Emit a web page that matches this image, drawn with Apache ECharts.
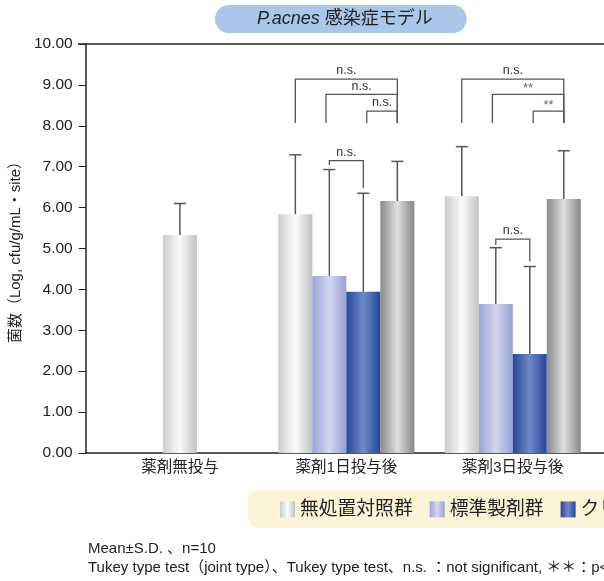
<!DOCTYPE html>
<html>
<head>
<meta charset="utf-8">
<script src="https://cdn.jsdelivr.net/npm/echarts@6/dist/echarts.min.js"></script>
<style>
html, body { margin: 0; padding: 0; background: #fff; }
#chart { width: 604px; height: 581px; }
</style>
</head>
<body>
<div id="chart"></div>
<script>
var categories = ['薬剤無投与', '薬剤1日投与後', '薬剤3日投与後'];
var groupNames = ['無処置対照群', '標準製剤群', 'クリンダマイシン群', '本剤群'];

// mean values (group 1 has only the control)
var controlMean = [5.33, 5.84, 6.28];
var standardMean = [null, 4.33, 3.64];
var clindaMean = [null, 3.94, 2.42];
var testMean = [null, 6.16, 6.21];

// mean + S.D.
var controlUpper = [6.10, 7.29, 7.49];
var standardUpper = [null, 6.93, 5.02];
var clindaUpper = [null, 6.35, 4.56];
var testUpper = [null, 7.13, 7.39];

// significance: [category, slotFrom, slotTo, lineY, leftLegY, rightLegY]
var sigBrackets = [
    [1, -1.5, 1.5, 9.14, 8.07, 8.07],
    [1, -0.6, 1.5, 8.77, 8.07, 8.07],
    [1, 0.6, 1.5, 8.36, 8.07, 8.07],
    [1, -0.5, 0.5, 7.15, 7.04, 6.48],
    [2, -1.5, 1.5, 9.14, 8.07, 8.07],
    [2, -0.6, 1.5, 8.77, 8.07, 8.07],
    [2, 0.6, 1.5, 8.36, 8.07, 8.07],
    [2, -0.5, 0.5, 5.23, 5.09, 4.68]
];
var sigLabels = ['n.s.', 'n.s.', 'n.s.', 'n.s.', 'n.s.', '**', '**', 'n.s.'];

var BAR_W = 34;
var FONT = '"Liberation Sans", "Noto Sans CJK JP", sans-serif';

function grad(c1, c2, c3) {
    return new echarts.graphic.LinearGradient(0, 0, 1, 0, [
        { offset: 0, color: c1 },
        { offset: 0.5, color: c2 },
        { offset: 1, color: c3 }
    ]);
}
var colControl = grad('#cccccc', '#fbfbfb', '#c2c2c2');
var colStandard = grad('#9ca4d5', '#d3d6ee', '#99a1d3');
var colClinda = grad('#284799', '#6f8ac9', '#25449a');
var colTest = grad('#8a8a8a', '#dedede', '#878787');

function toRows(means, uppers, cats) {
    var rows = [];
    for (var i = 0; i < means.length; i++) {
        if (means[i] == null || cats.indexOf(i) < 0) continue;
        rows.push([i, means[i], uppers[i]]);
    }
    return rows;
}

function errorRender(slot) {
    return function (params, api) {
        var top = api.coord([api.value(0), api.value(2)]);
        var base = api.coord([api.value(0), api.value(1)]);
        var cx = top[0] + slot * BAR_W;
        var st = { stroke: '#555', lineWidth: 1.5 };
        return {
            type: 'group',
            children: [
                { type: 'line', shape: { x1: cx, y1: base[1], x2: cx, y2: top[1] }, style: st },
                { type: 'line', shape: { x1: cx - 6, y1: top[1], x2: cx + 6, y2: top[1] }, style: st }
            ]
        };
    };
}

function errorSeries(means, uppers, slot, cats, axisIdx) {
    return {
        type: 'custom',
        xAxisIndex: axisIdx,
        renderItem: errorRender(slot),
        data: toRows(means, uppers, cats),
        z: 5,
        silent: true
    };
}

function bracketRender(params, api) {
    var c = api.value(0);
    var p0 = api.coord([c, api.value(3)]);
    var pl = api.coord([c, api.value(4)]);
    var pr = api.coord([c, api.value(5)]);
    var xl = p0[0] + api.value(1) * BAR_W;
    var xr = p0[0] + api.value(2) * BAR_W;
    var label = sigLabels[params.dataIndex];
    var star = label === '**';
    return {
        type: 'group',
        children: [
            {
                type: 'polyline',
                shape: { points: [[xl, pl[1]], [xl, p0[1]], [xr, p0[1]], [xr, pr[1]]] },
                style: { stroke: '#555', lineWidth: 1.3, fill: null }
            },
            {
                type: 'text',
                x: (xl + xr) / 2,
                y: star ? p0[1] + 1 : p0[1] - 2,
                style: {
                    text: label,
                    font: (star ? '13px ' : '12.5px ') + FONT,
                    fill: star ? '#666' : '#333',
                    textAlign: 'center',
                    textVerticalAlign: 'bottom'
                }
            }
        ]
    };
}

var chart = echarts.init(document.getElementById('chart'));

var option = {
    animation: false,
    textStyle: { fontFamily: FONT },
    title: {
        text: '{i|P.acnes} 感染症モデル',
        left: 215,
        top: 5,
        padding: [5, 34, 5, 42],
        backgroundColor: '#a8c7ea',
        borderRadius: 14,
        textStyle: {
            fontSize: 18,
            fontWeight: 'normal',
            color: '#222',
            fontFamily: FONT,
            rich: {
                i: { fontSize: 18, fontStyle: 'italic', color: '#222', fontFamily: FONT }
            }
        }
    },
    legend: {
        data: groupNames,
        left: 248,
        top: 490,
        width: 1000,
        padding: [10, 30, 9, 32],
        backgroundColor: '#fdf3d6',
        borderRadius: 10,
        icon: 'rect',
        itemWidth: 15,
        itemHeight: 16,
        itemGap: 17,
        textStyle: { fontSize: 18.8, color: '#222', fontFamily: FONT }
    },
    grid: { left: 96, width: 500, top: 44, height: 409 },
    xAxis: [{
        type: 'category',
        data: categories,
        axisLine: { show: false },
        axisTick: { show: false },
        axisLabel: { fontSize: 15.5, color: '#222', margin: 7 }
    }, {
        type: 'category',
        data: categories,
        show: false
    }],
    yAxis: {
        type: 'value',
        min: 0,
        max: 10,
        interval: 1,
        offset: 11,
        name: '菌数（Log, cfu/g/mL・site）',
        nameLocation: 'middle',
        nameGap: 57,
        nameTextStyle: { fontSize: 15, color: '#222' },
        axisLine: { show: true, lineStyle: { color: '#222', width: 1.5 } },
        axisTick: { show: true, length: 7, lineStyle: { color: '#222' } },
        axisLabel: {
            fontSize: 15.5,
            color: '#222',
            margin: 13,
            formatter: function (v) { return v.toFixed(2); }
        },
        splitLine: { show: false }
    },
    graphic: [
        { type: 'line', shape: { x1: 78, y1: 44, x2: 604, y2: 44 }, style: { stroke: '#222', lineWidth: 1.5 } },
        { type: 'line', shape: { x1: 85, y1: 453, x2: 604, y2: 453 }, style: { stroke: '#222', lineWidth: 1.5 } },
        { type: 'text', left: 88, top: 541, style: { text: 'Mean±S.D. 、n=10', font: '15px ' + FONT, fill: '#222' } },
        { type: 'text', left: 88, top: 560, style: { text: 'Tukey type test（joint type）、Tukey type test、n.s. ：not significant, ＊＊：p<0.01', font: '15px ' + FONT, fill: '#222' } }
    ],
    series: [
        { name: groupNames[0], type: 'bar', barWidth: BAR_W, barGap: '0%', itemStyle: { color: colControl }, data: [null, controlMean[1], controlMean[2]] },
        { name: groupNames[1], type: 'bar', barWidth: BAR_W, barGap: '0%', itemStyle: { color: colStandard }, data: standardMean },
        { name: groupNames[2], type: 'bar', barWidth: BAR_W, barGap: '0%', itemStyle: { color: colClinda }, data: clindaMean },
        { name: groupNames[3], type: 'bar', barWidth: BAR_W, barGap: '0%', itemStyle: { color: colTest }, data: testMean },
        { name: groupNames[0], type: 'bar', xAxisIndex: 1, barWidth: BAR_W, itemStyle: { color: colControl }, data: [controlMean[0], null, null] },
        errorSeries(controlMean, controlUpper, 0, [0], 1),
        errorSeries(controlMean, controlUpper, -1.5, [1, 2], 0),
        errorSeries(standardMean, standardUpper, -0.5, [1, 2], 0),
        errorSeries(clindaMean, clindaUpper, 0.5, [1, 2], 0),
        errorSeries(testMean, testUpper, 1.5, [1, 2], 0),
        { type: 'custom', renderItem: bracketRender, data: sigBrackets, z: 6, silent: true }
    ]
};

chart.setOption(option);
</script>
</body>
</html>
